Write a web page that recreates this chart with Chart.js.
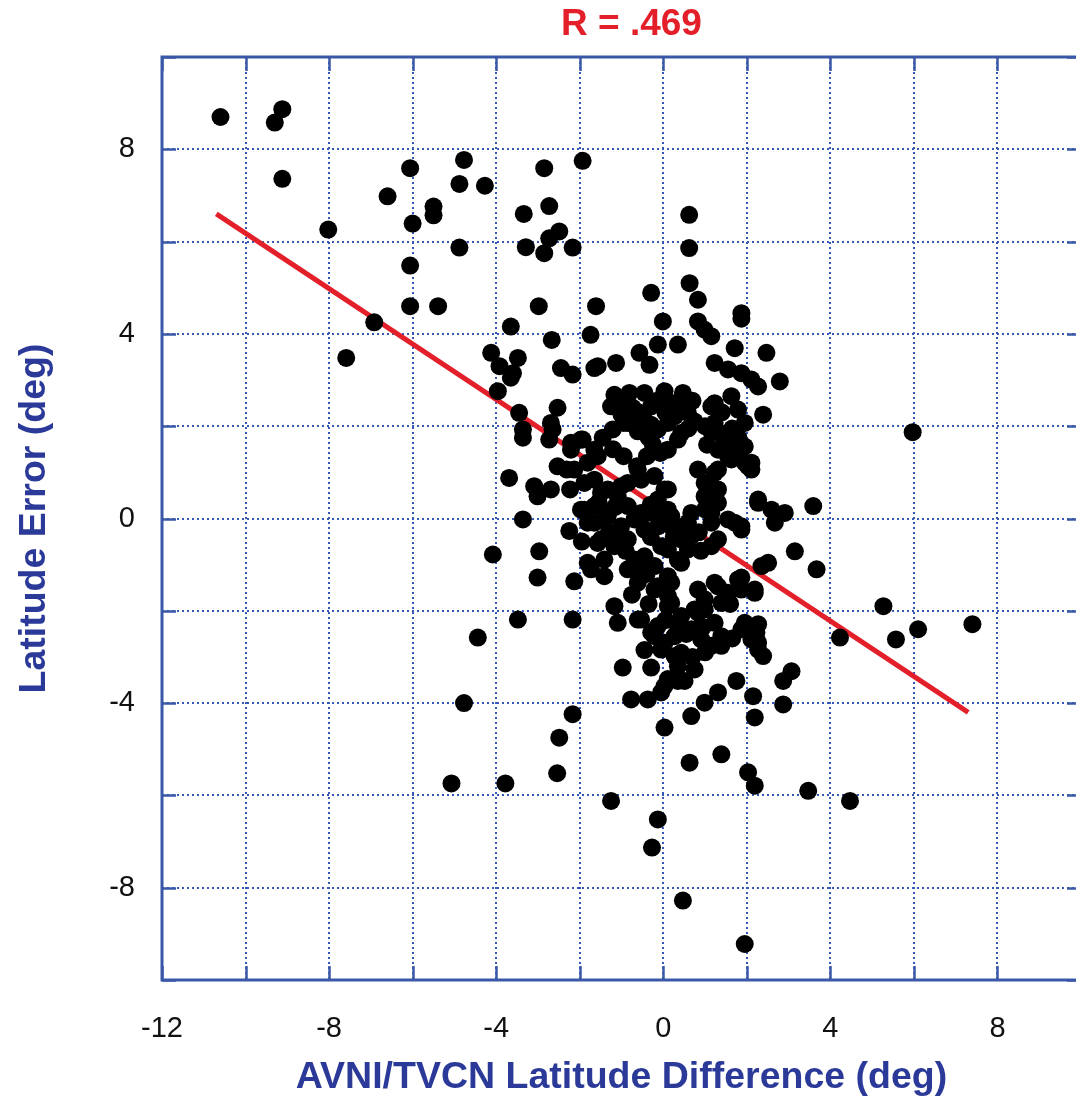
<!DOCTYPE html>
<html><head><meta charset="utf-8">
<script src="https://cdn.jsdelivr.net/npm/chart.js@4/dist/chart.umd.min.js"></script>
<style>html,body{margin:0;padding:0;overflow:hidden;background:#fff}canvas{display:block}</style>
</head><body>
<canvas id="c" width="1113" height="1096"></canvas>
<script>
const titleText = 'R = .469';
const xAxisTitle = 'AVNI/TVCN Latitude Difference (deg)';
const yAxisTitle = 'Latitude Error (deg)';
const xTickLabels = [-12, -8, -4, 0, 4, 8];
const yTickLabels = [-8, -4, 0, 4, 8];

// AVNI/TVCN latitude difference (x) and latitude error (y)
const diffX = [
-10.6,-9.12,-9.30,-9.12,-6.06,-4.77,-2.85,-1.93,-4.88,-4.27,-6.60,-5.50,-5.50,-3.34,-2.73,-6.00,-8.02,-2.49,-2.73,-3.29,
-2.85,-2.17,-4.88,-6.06,-6.06,-5.39,-2.98,-1.61,-6.92,-7.59,-3.65,-2.67,-1.74,-4.12,-3.48,-3.65,-3.96,-2.45,-2.17,-1.65,
-3.45,-3.36,-2.53,-2.65,-2.73,-1.93,
0.62,0.62,0.63,0.83,-0.29,1.87,1.87,-0.01,0.83,0.99,1.15,-0.13,0.35,-0.57,-0.33,-3.92,-3.60,-1.57,-1.13,1.71,
1.23,1.55,1.87,2.11,2.27,2.47,2.79,-3.36,-2.69,-1.17,-1.25,-1.21,-0.45,0.03,0.47,-0.73,-0.29,0.43,-0.85,-0.61,
-0.29,0.11,0.43,1.23,1.63,1.79,1.95,2.39,1.15,1.47,1.95,2.11,1.31,1.63,2.03,-2.21,-1.57,-2.53,-2.13,-3.69,
-3.09,-3.01,-2.69,-1.89,-1.49,-1.09,-0.85,-0.61,-0.21,0.03,-0.13,0.83,0.99,1.31,1.31,0.99,2.27,2.59,2.91,2.67,
3.59,-3.36,-2.25,-1.89,-1.65,-1.33,-1.01,-0.69,-0.37,-0.13,0.19,0.51,0.43,1.15,1.55,1.87,1.15,1.31,-4.08,-2.97,
-3.01,-2.13,-1.73,-1.41,-1.09,-1.57,-0.69,-0.53,-0.13,0.19,-0.21,0.59,0.67,3.15,2.51,3.67,0.83,1.31,1.79,2.19,
-1.17,-1.09,-0.53,-0.13,0.19,0.43,0.67,0.99,1.23,1.39,1.95,2.23,-3.48,-2.17,-4.44,4.23,
-1.41,-0.29,0.03,0.27,0.11,0.75,-0.97,-0.29,0.11,0.51,-0.77,-0.37,-0.05,0.67,0.03,0.63,-4.77,-2.17,-2.49,-2.54,
-5.07,-3.78,-1.25,-0.13,-0.27,0.47,
1.87,1.87,2.19,1.23,1.55,0.99,1.39,5.27,7.40,5.57,6.10,0.35,0.83,0.91,1.39,2.27,2.27,2.39,0.35,0.75,
0.35,0.03,1.75,3.07,2.87,1.31,0.99,2.15,2.19,2.87,1.39,2.03,2.19,3.47,4.47,1.95,5.97,
-0.81,-0.95,-0.45,-0.13,-2.21,-1.97,-1.65,-1.81,-0.95,-0.63,-0.39,-0.07,-2.31,-2.23,-1.65,-1.33,-1.01,-0.85,-0.53,-1.97,
-1.65,-1.33,-0.21,-0.05,-0.53,0.27,0.59,1.15,1.23,0.35,0.11,1.47,1.79,1.95,2.11,1.23,1.15,1.31,0.11,0.11,
2.27,0.67,-1.81,-1.41,-1.49,-1.17,-0.85,-0.45,-0.05,-0.05,-0.45,-1.81,-0.85,-0.61,-0.21,-0.61,-0.21,-0.05,-0.61,0.19,
0.59,0.11,0.43,1.15,1.71,2.35,0.11,0.11,1.87,0.83,1.15,0.27,0.43,1.87,2.11,2.27,
-0.95,-0.60,-0.15,0.25,0.70,-1.00,0.05,0.75,0.60,-0.35,1.40,1.00,1.65,1.35,1.80,1.55,1.05,-1.45,-1.20,-0.25,
-1.55,-1.15,-0.30,-1.95,-1.30,-0.90,-0.30,0.25,0.35,-0.40,0.85,-0.75,-0.35,0.55,0.95,1.65,1.00,0.70,-0.45,1.60,
0.05,1.00,0.90
];
const errY = [
8.70,8.87,8.58,7.36,7.59,7.77,7.59,7.75,7.25,7.21,6.98,6.76,6.57,6.60,6.77,6.39,6.26,6.22,6.07,5.88,
5.75,5.87,5.87,5.48,4.60,4.60,4.60,4.60,4.25,3.48,4.16,3.87,3.98,3.59,3.48,3.05,2.76,3.26,3.12,3.26,
2.29,1.75,2.40,1.93,1.71,1.71,
6.58,5.86,5.10,4.74,4.89,4.45,4.33,4.27,4.27,4.09,3.95,3.77,3.77,3.59,3.33,3.30,3.15,3.30,3.37,3.69,
3.37,3.23,3.15,3.01,2.86,3.59,2.97,1.93,2.07,2.68,2.43,1.93,2.72,2.76,2.72,2.40,2.43,2.36,2.07,1.89,
2.03,2.07,1.85,2.50,2.65,2.36,2.07,2.25,1.89,1.78,1.56,1.21,1.49,1.28,1.13,1.49,1.35,1.13,1.06,0.88,
0.70,0.48,0.63,0.77,0.56,0.48,0.77,1.06,0.92,0.63,0.41,1.06,0.77,1.06,0.63,0.48,0.41,0.19,0.12,-0.09,
0.27,-0.02,-0.27,0.19,-0.09,0.05,-0.17,-0.02,0.12,-0.17,0.05,-0.17,-0.45,0.12,-0.02,-0.17,-0.60,-0.45,-0.78,-0.71,
-1.28,-1.36,-1.10,-0.89,-0.53,-0.53,-0.89,-1.25,-1.47,-1.39,-1.03,-0.67,-0.38,-0.71,-0.96,-1.10,-1.54,-1.47,-1.32,-1.54,
-1.90,-2.26,-2.19,-2.33,-1.83,-2.11,-2.40,-1.97,-2.26,-2.55,-2.26,-2.47,-2.19,-2.19,-2.58,-2.58,
-1.25,-2.47,-2.69,-2.98,-1.90,-1.97,-3.23,-3.23,-3.48,-3.52,-3.92,-3.92,-3.77,-4.28,-4.53,-5.29,-4.00,-4.24,-4.75,-5.52,
-5.74,-5.74,-6.12,-6.52,-7.13,-8.28,
-0.24,-1.28,-1.61,-1.39,-1.61,-1.75,-1.83,-1.90,-2.29,-2.62,-2.40,-2.33,-2.04,-2.62,-2.76,-2.29,-2.69,-2.98,-3.20,-3.27,
-3.52,-3.63,-3.52,-3.31,-3.52,-3.77,-3.99,-3.85,-4.31,-4.03,-5.11,-5.50,-5.79,-5.90,-6.12,-9.22,1.87,
2.72,2.07,2.14,1.93,1.64,1.71,1.49,1.21,1.35,1.13,1.35,1.42,1.06,0.63,0.84,0.63,0.70,0.27,0.84,0.19,
0.27,0.12,0.27,0.05,0.12,2.21,2.29,2.43,2.07,1.71,1.49,1.64,1.49,1.21,1.06,0.99,0.63,0.34,0.63,0.19,
0.34,0.12,-0.09,-0.02,-0.45,-0.60,-0.45,-0.24,-0.09,-0.60,-0.82,-0.96,-1.10,-1.39,-1.54,-0.96,-2.55,-2.84,-2.19,-0.17,
-0.09,-0.67,-0.96,-0.09,-0.09,-1.03,-1.25,-1.68,-1.54,-2.40,-2.76,-2.55,-2.91,-2.40,-2.62,-2.84,
2.55,2.30,2.55,2.50,2.55,2.25,2.30,2.10,1.95,1.75,2.30,2.00,1.95,1.85,1.75,1.35,1.60,1.75,1.50,1.60,
0.35,0.25,0.30,-0.50,-0.30,-0.70,-0.40,-0.40,-0.90,-1.20,-0.30,-1.65,-1.85,-2.50,-2.35,-2.60,-2.90,-3.00,-2.85,-1.85,
-2.20,0.20,-0.70
];
// regression line end points
const fitX = [-10.7, 7.3];
const fitY = [6.6, -4.2];

const blue = '#2b3a98';
const gridBlue = '#3558b8';
const frameBlue = '#3a58a8';
const fontFam = "'Liberation Sans', Arial, Helvetica, sans-serif";

const framePlugin = {
  id: 'frame',
  afterLayout(chart) {
    const tb = chart.titleBlock;
    if (tb) { tb.left += 10; tb.right += 10; }
  },
  beforeDatasetsDraw(chart) {
    const {ctx, chartArea: {left, right, top, bottom}, scales: {x, y}} = chart;
    ctx.save();
    ctx.strokeStyle = frameBlue;
    ctx.lineWidth = 2.5;
    const L = 14;
    ctx.beginPath();
    x.ticks.forEach(t => {
      const px = Math.round(x.getPixelForValue(t.value)) + 0.5;
      ctx.moveTo(px, top); ctx.lineTo(px, top + L);
      ctx.moveTo(px, bottom); ctx.lineTo(px, bottom - L);
    });
    y.ticks.forEach(t => {
      const py = Math.round(y.getPixelForValue(t.value)) + 0.5;
      ctx.moveTo(left, py); ctx.lineTo(left + L, py);
      ctx.moveTo(right, py); ctx.lineTo(right - L, py);
    });
    ctx.stroke();
    ctx.lineWidth = 3;
    ctx.strokeRect(left, top, right - left, bottom - top);
    ctx.restore();
  }
};

const points = diffX.map((v, i) => ({x: v, y: errY[i]}));
const fitLine = fitX.map((v, i) => ({x: v, y: fitY[i]}));

new Chart(document.getElementById('c'), {
  type: 'scatter',
  data: {
    datasets: [
      {
        type: 'scatter',
        data: points,
        pointRadius: 9,
        pointHoverRadius: 9,
        pointBackgroundColor: '#000',
        pointBorderWidth: 0,
        order: 0
      },
      {
        type: 'line',
        data: fitLine,
        borderColor: '#e3202a',
        borderWidth: 5,
        pointRadius: 0,
        fill: false,
        order: 1
      }
    ]
  },
  options: {
    responsive: false,
    animation: false,
    devicePixelRatio: 1,
    layout: {padding: {left: 0, right: 7, top: 0, bottom: 0}},
    plugins: {
      legend: {display: false},
      tooltip: {enabled: false},
      title: {
        display: true,
        text: titleText,
        fullSize: false,
        color: '#e3202a',
        font: {family: fontFam, size: 37, weight: 'bold', lineHeight: 1.2},
        padding: {top: 3, bottom: 9.6}
      }
    },
    scales: {
      x: {
        type: 'linear',
        min: -12, max: 10,
        afterFit(s) { s.height = 116; },
        ticks: {
          stepSize: 2,
          autoSkip: false,
          maxRotation: 0,
          padding: 32,
          color: '#111',
          font: {family: fontFam, size: 29},
          callback: v => xTickLabels.includes(v) ? String(v) : ''
        },
        grid: {color: gridBlue, lineWidth: 2, drawTicks: false},
        border: {display: false, dash: [2, 3]},
        title: {
          display: true, text: xAxisTitle, color: blue,
          font: {family: fontFam, size: 37.5, weight: 'bold', lineHeight: 1},
          padding: {top: 0, bottom: 0}
        }
      },
      y: {
        type: 'linear',
        min: -10, max: 10,
        afterFit(s) { s.width = 162; },
        ticks: {
          stepSize: 2,
          autoSkip: false,
          padding: 27,
          color: '#111',
          font: {family: fontFam, size: 29},
          callback: v => yTickLabels.includes(v) ? String(v) : ''
        },
        grid: {color: gridBlue, lineWidth: 2, drawTicks: false},
        border: {display: false, dash: [2, 3]},
        title: {
          display: true, text: yAxisTitle, color: blue,
          font: {family: fontFam, size: 37.5, weight: 'bold', lineHeight: 1.2},
          padding: {top: 12, bottom: 0}
        }
      }
    }
  },
  plugins: [framePlugin]
});
</script>
</body></html>
